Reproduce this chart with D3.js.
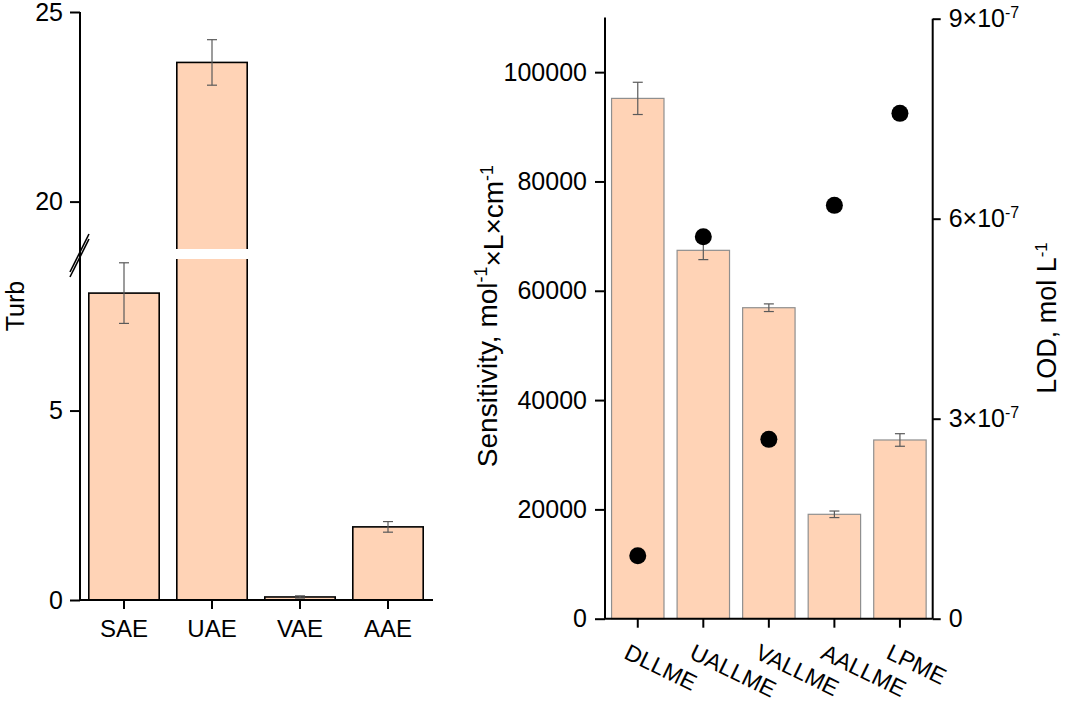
<!DOCTYPE html>
<html>
<head>
<meta charset="utf-8">
<script src="https://cdn.jsdelivr.net/npm/d3@7"></script>
<style>
  body { margin: 0; background: #fff; }
  svg text { font-family: "Liberation Sans", Arial, sans-serif; fill: #000; }
</style>
</head>
<body>
<svg id="chart" width="1065" height="704"></svg>
<script>
// left panel: turbidity
const turbCats = ['SAE', 'UAE', 'VAE', 'AAE'];
const turbValues = [8.1, 23.67, 0.08, 1.93];
const turbErrors = [0.8, 0.6, 0.03, 0.14];
const turbTicksLow = [0, 5];
const turbTicksHigh = [20, 25];

// right panel: sensitivity (bars) and LOD (dots)
const methods = ['DLLME', 'UALLME', 'VALLME', 'AALLME', 'LPME'];
const sensitivity = [95200, 67400, 56900, 19100, 32700];
const sensitivityErr = [2950, 1700, 700, 600, 1150];
const lod = [9.45e-8, 5.73e-7, 2.69e-7, 6.2e-7, 7.58e-7];
const sensTicks = [0, 20000, 40000, 60000, 80000, 100000];
const lodTicks = [0, 3e-7, 6e-7, 9e-7];

const barFill = '#ffd3b6';
const errColor = '#5a5a5a';

const svg = d3.select('#chart');

// ---------- left panel ----------
const breakLow = 9, breakHigh = 18.75;
const yLow = d3.scaleLinear().domain([0, breakLow]).range([600, 259]);
const yHigh = d3.scaleLinear().domain([breakHigh, 25]).range([249, 12]);
const yTurb = v => (v <= breakLow ? yLow(v) : v >= breakHigh ? yHigh(v) : 254);
const xTurb = d3.scaleBand().domain(turbCats).range([80, 432])
  .paddingInner(0.2).paddingOuter(0.1);

const left = svg.append('g');

left.selectAll('.bar').data(turbCats).enter().append('rect')
  .attr('class', 'bar')
  .attr('x', d => xTurb(d))
  .attr('y', (d, i) => yTurb(turbValues[i]))
  .attr('width', xTurb.bandwidth())
  .attr('height', (d, i) => 600 - yTurb(turbValues[i]))
  .attr('fill', barFill)
  .attr('stroke', '#000')
  .attr('stroke-width', 1.6);

// white gap across bars that cross the break
left.selectAll('.gap').data(turbCats.filter((d, i) => turbValues[i] > breakHigh)).enter().append('rect')
  .attr('x', d => xTurb(d) - 2)
  .attr('y', yHigh(breakHigh))
  .attr('width', xTurb.bandwidth() + 4)
  .attr('height', yLow(breakLow) - yHigh(breakHigh))
  .attr('fill', '#fff');

const turbErr = left.selectAll('.err').data(turbCats).enter().append('g')
  .attr('stroke', errColor).attr('stroke-width', 1.2);
turbErr.append('line')
  .attr('x1', d => xTurb(d) + xTurb.bandwidth() / 2)
  .attr('x2', d => xTurb(d) + xTurb.bandwidth() / 2)
  .attr('y1', (d, i) => yTurb(turbValues[i] - turbErrors[i]))
  .attr('y2', (d, i) => yTurb(turbValues[i] + turbErrors[i]));
[-1, 1].forEach(s => {
  turbErr.append('line')
    .attr('x1', d => xTurb(d) + xTurb.bandwidth() / 2 - 5)
    .attr('x2', d => xTurb(d) + xTurb.bandwidth() / 2 + 5)
    .attr('y1', (d, i) => yTurb(turbValues[i] + s * turbErrors[i]))
    .attr('y2', (d, i) => yTurb(turbValues[i] + s * turbErrors[i]));
});

const styleAxis = (g, size) => {
  g.select('.domain').remove();
  g.selectAll('.tick line').attr('stroke', '#000').attr('stroke-width', 2);
  g.selectAll('.tick text').attr('font-size', size).attr('fill', '#000');
};

left.append('g').attr('transform', 'translate(80,0)')
  .call(d3.axisLeft(yLow).tickValues(turbTicksLow).tickFormat(d3.format('d')).tickSize(10).tickPadding(7))
  .call(g => styleAxis(g, 25));
left.append('g').attr('transform', 'translate(80,0)')
  .call(d3.axisLeft(yHigh).tickValues(turbTicksHigh).tickFormat(d3.format('d')).tickSize(10).tickPadding(7))
  .call(g => styleAxis(g, 25));
left.append('line').attr('x1', 80).attr('x2', 80).attr('y1', 12).attr('y2', 600)
  .attr('stroke', '#000').attr('stroke-width', 2);

left.append('g').attr('transform', 'translate(0,600)')
  .call(d3.axisBottom(xTurb).tickSize(9).tickPadding(11))
  .call(g => styleAxis(g, 24));
left.append('line').attr('x1', 80).attr('x2', 433).attr('y1', 600).attr('y2', 600)
  .attr('stroke', '#000').attr('stroke-width', 2);

// break marks
[0, 5].forEach(o => {
  left.append('line')
    .attr('x1', 70).attr('y1', 272 + o).attr('x2', 89).attr('y2', 234 + o)
    .attr('stroke', '#000').attr('stroke-width', 1.6);
});

left.append('text')
  .attr('transform', 'translate(24,306) rotate(-90)')
  .attr('text-anchor', 'middle')
  .attr('font-size', 25)
  .text('Turb');

// ---------- right panel ----------
const xM = d3.scaleBand().domain(methods).range([605, 932.7]).paddingInner(0.2).paddingOuter(0.1);
const ySens = d3.scaleLinear().domain([0, 110000]).range([618.7, 17.5]);
const yLod = d3.scaleLinear().domain([0, 9e-7]).range([618.7, 18.7]);

const right = svg.append('g');

right.selectAll('.bar').data(methods).enter().append('rect')
  .attr('x', d => xM(d))
  .attr('y', (d, i) => ySens(sensitivity[i]))
  .attr('width', xM.bandwidth())
  .attr('height', (d, i) => ySens(0) - ySens(sensitivity[i]))
  .attr('fill', barFill)
  .attr('stroke', '#8f8f8f')
  .attr('stroke-width', 1.2);

const sensErr = right.selectAll('.err').data(methods).enter().append('g')
  .attr('stroke', errColor).attr('stroke-width', 1.2);
sensErr.append('line')
  .attr('x1', d => xM(d) + xM.bandwidth() / 2)
  .attr('x2', d => xM(d) + xM.bandwidth() / 2)
  .attr('y1', (d, i) => ySens(sensitivity[i] - sensitivityErr[i]))
  .attr('y2', (d, i) => ySens(sensitivity[i] + sensitivityErr[i]));
[-1, 1].forEach(s => {
  sensErr.append('line')
    .attr('x1', d => xM(d) + xM.bandwidth() / 2 - 5)
    .attr('x2', d => xM(d) + xM.bandwidth() / 2 + 5)
    .attr('y1', (d, i) => ySens(sensitivity[i] + s * sensitivityErr[i]))
    .attr('y2', (d, i) => ySens(sensitivity[i] + s * sensitivityErr[i]));
});

right.selectAll('.dot').data(methods).enter().append('circle')
  .attr('cx', d => xM(d) + xM.bandwidth() / 2)
  .attr('cy', (d, i) => yLod(lod[i]))
  .attr('r', 8.5)
  .attr('fill', '#000');

right.append('g').attr('transform', 'translate(605,0)')
  .call(d3.axisLeft(ySens).tickValues(sensTicks).tickFormat(d3.format('d')).tickSize(10).tickPadding(8))
  .call(g => styleAxis(g, 25));
right.append('line').attr('x1', 605).attr('x2', 605).attr('y1', 17.5).attr('y2', 618.7)
  .attr('stroke', '#000').attr('stroke-width', 2);

const lodAxis = right.append('g').attr('transform', 'translate(932.7,0)')
  .call(d3.axisRight(yLod).tickValues(lodTicks).tickSize(8).tickPadding(8))
  .call(g => styleAxis(g, 25));
lodAxis.selectAll('.tick text').each(function (d) {
  const t = d3.select(this).text('');
  if (d === 0) { t.text('0'); return; }
  const m = Math.round(d / 1e-7);
  t.append('tspan').text(m + '×10');
  t.append('tspan').attr('dy', '-0.55em').attr('font-size', 16).text('-7');
});
right.append('line').attr('x1', 932.7).attr('x2', 932.7).attr('y1', 18.7).attr('y2', 618.7)
  .attr('stroke', '#000').attr('stroke-width', 2);

const xAxisM = right.append('g').attr('transform', 'translate(0,618.7)')
  .call(d3.axisBottom(xM).tickSize(9).tickPadding(10))
  .call(g => styleAxis(g, 23));
xAxisM.selectAll('.tick text')
  .attr('text-anchor', 'start')
  .attr('y', 0).attr('dy', 0)
  .attr('transform', 'translate(-15,39) rotate(26)');
right.append('line').attr('x1', 605).attr('x2', 932.7).attr('y1', 618.7).attr('y2', 618.7)
  .attr('stroke', '#000').attr('stroke-width', 2);

const sensTitle = right.append('text')
  .attr('transform', 'translate(497,316) rotate(-90)')
  .attr('text-anchor', 'middle')
  .attr('font-size', 28);
sensTitle.append('tspan').text('Sensitivity, mol');
sensTitle.append('tspan').attr('dy', '-0.55em').attr('font-size', 18).text('-1');
sensTitle.append('tspan').attr('dy', '0.55em').text('×L×cm');
sensTitle.append('tspan').attr('dy', '-0.55em').attr('font-size', 18).text('-1');

const lodTitle = right.append('text')
  .attr('transform', 'translate(1056,318) rotate(-90)')
  .attr('text-anchor', 'middle')
  .attr('font-size', 27);
lodTitle.append('tspan').text('LOD, mol L');
lodTitle.append('tspan').attr('dy', '-0.55em').attr('font-size', 17).text('-1');
</script>
</body>
</html>
